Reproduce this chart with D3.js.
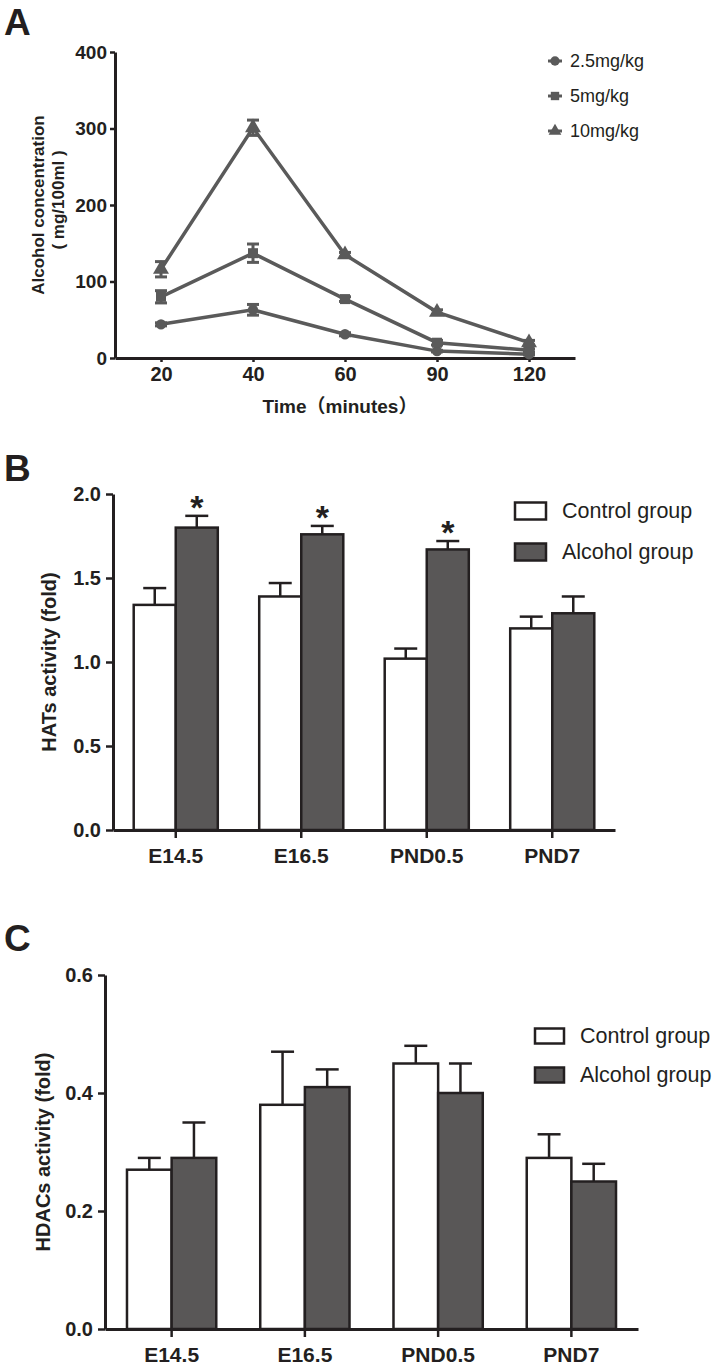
<!DOCTYPE html>
<html><head><meta charset="utf-8">
<script src="https://cdn.jsdelivr.net/npm/d3@7"></script>
<style>
body{margin:0;background:#fff}
svg{display:block}
text{font-family:"Liberation Sans",Arial,"Noto Sans CJK SC",sans-serif;fill:#231f20}
</style>
</head><body>
<svg id="c" width="721" height="1371"></svg>
<script>
// ---------- Panel A data ----------
const times = ["20","40","60","90","120"];
const doses = ["2.5mg/kg","5mg/kg","10mg/kg"];
const conc25 = [44,63,31,9,5];
const err25  = [2,7,2,1,1];
const conc5  = [80,137,77,20,10];
const err5   = [8,12,3,3,2];
const conc10 = [116,301,135,60,20];
const err10  = [10,10,3,3,3];
const concTicks = [0,100,200,300,400];

// ---------- Panels B / C data ----------
const stages = ["E14.5","E16.5","PND0.5","PND7"];
const groups = ["Control group","Alcohol group"];
const hatControl    = [1.34,1.39,1.02,1.20];
const hatControlErr = [0.10,0.08,0.06,0.07];
const hatAlcohol    = [1.80,1.76,1.67,1.29];
const hatAlcoholErr = [0.07,0.05,0.05,0.10];
const hatSignif     = [true,true,true,false];
const hatTicks = [0,0.5,1.0,1.5,2.0];

const hdacControl    = [0.27,0.38,0.45,0.29];
const hdacControlErr = [0.02,0.09,0.03,0.04];
const hdacAlcohol    = [0.29,0.41,0.40,0.25];
const hdacAlcoholErr = [0.06,0.03,0.05,0.03];
const hdacTicks = [0,0.2,0.4,0.6];

const INK = "#231f20", LINE = "#5a5a5a", DARK = "#595757";
const svg = d3.select("#c");

function styleAxis(g, fs){
  g.select(".domain").attr("stroke", INK).attr("stroke-width", 3);
  g.selectAll(".tick line").attr("stroke", INK).attr("stroke-width", 2.5);
  g.selectAll(".tick text").attr("fill", INK).style("font-size", fs+"px").style("font-weight","bold");
}

function panelLabel(t, x, y){
  svg.append("text").attr("x", x).attr("y", y).text(t)
    .style("font-size","37px").style("font-weight","bold");
}

// ================= Panel A =================
panelLabel("A", 4, 35);
{
  const x = d3.scalePoint().domain(times).range([115,575]).padding(0.5);
  const y = d3.scaleLinear().domain([0,400]).range([358,52]);
  const gy = svg.append("g").attr("transform","translate(115,0)")
    .call(d3.axisLeft(y).tickValues(concTicks).tickSize(5).tickSizeOuter(0).tickPadding(3).tickFormat(d3.format("d")));
  styleAxis(gy, 19);
  const gx = svg.append("g").attr("transform","translate(0,358)")
    .call(d3.axisBottom(x).tickSize(4).tickSizeOuter(0).tickPadding(5));
  styleAxis(gx, 20);

  const series = [
    {vals: conc25, errs: err25, sym: d3.symbolCircle, size: 85},
    {vals: conc5,  errs: err5,  sym: d3.symbolSquare, size: 100},
    {vals: conc10, errs: err10, sym: d3.symbolTriangle, size: 110}
  ];
  const line = d3.line().x((d,i)=>x(times[i])).y(d=>y(d));
  series.forEach(s=>{
    const g = svg.append("g");
    s.vals.forEach((v,i)=>{
      const cx = x(times[i]);
      g.append("line").attr("x1",cx).attr("x2",cx).attr("y1",y(v-s.errs[i])).attr("y2",y(v+s.errs[i]))
        .attr("stroke",LINE).attr("stroke-width",3);
      [v-s.errs[i], v+s.errs[i]].forEach(e=>{
        g.append("line").attr("x1",cx-6).attr("x2",cx+6).attr("y1",y(e)).attr("y2",y(e))
          .attr("stroke",LINE).attr("stroke-width",3);
      });
    });
    g.append("path").datum(s.vals).attr("d",line).attr("fill","none")
      .attr("stroke",LINE).attr("stroke-width",3.5);
    g.selectAll("path.m").data(s.vals).enter().append("path").attr("class","m")
      .attr("d", d3.symbol().type(s.sym).size(s.size))
      .attr("transform",(d,i)=>`translate(${x(times[i])},${y(d)})`)
      .attr("fill",LINE);
  });

  // legend
  const ly = d3.scalePoint().domain(doses).range([61,131]);
  doses.forEach((d,i)=>{
    const yy = ly(d);
    svg.append("line").attr("x1",548).attr("x2",562).attr("y1",yy).attr("y2",yy)
      .attr("stroke",LINE).attr("stroke-width",3);
    svg.append("path").attr("d", d3.symbol().type(series[i].sym).size(70))
      .attr("transform",`translate(555,${yy})`).attr("fill",LINE);
    svg.append("text").attr("x",570).attr("y",yy).attr("dominant-baseline","central")
      .text(d).style("font-size","18px");
  });

  // axis titles
  svg.append("text").attr("transform","translate(38,205) rotate(-90)")
    .attr("text-anchor","middle").attr("dominant-baseline","central")
    .style("font-size","17px").style("font-weight","bold").text("Alcohol concentration");
  svg.append("text").attr("transform","translate(58,200) rotate(-90)")
    .attr("text-anchor","middle").attr("dominant-baseline","central")
    .style("font-size","17px").style("font-weight","bold").text("( mg/100ml )");
  svg.append("text").attr("x",340).attr("y",406).attr("text-anchor","middle")
    .attr("dominant-baseline","central")
    .style("font-size","19px").style("font-weight","bold").text("Time（minutes）");
}

// ================= Bar panel helper =================
function barPanel(o){
  const x = d3.scaleBand().domain(stages).range([o.x0,o.x1]).paddingInner(0.33).paddingOuter(0.165);
  const y = d3.scaleLinear().domain(o.domain).range([o.yBottom,o.yTop]);
  const bw = x.bandwidth()/2;
  const gy = svg.append("g").attr("transform",`translate(${o.x0},0)`)
    .call(d3.axisLeft(y).tickValues(o.ticks).tickSize(7).tickSizeOuter(0).tickPadding(5).tickFormat(d3.format(".1f")));
  styleAxis(gy, 20);

  const vals = [o.ctrl, o.alc], errs = [o.ctrlErr, o.alcErr];
  stages.forEach((s,i)=>{
    [0,1].forEach(k=>{
      const bx = x(s) + k*bw;
      const top = y(vals[k][i]);
      const cx = bx + bw/2;
      const ey = y(vals[k][i]+errs[k][i]);
      svg.append("line").attr("x1",cx).attr("x2",cx).attr("y1",top).attr("y2",ey)
        .attr("stroke",INK).attr("stroke-width",2.5);
      svg.append("line").attr("x1",cx-11.5).attr("x2",cx+11.5).attr("y1",ey).attr("y2",ey)
        .attr("stroke",INK).attr("stroke-width",2.5);
      svg.append("rect").attr("x",bx).attr("y",top).attr("width",bw).attr("height",y(0)-top)
        .attr("fill", k===0 ? "#fff" : DARK).attr("stroke",INK).attr("stroke-width",2.5);
      if(k===1 && o.signif && o.signif[i]){
        svg.append("text").attr("x",cx).attr("y",ey+3).attr("text-anchor","middle")
          .style("font-size","34px").style("font-weight","bold").text("*");
      }
    });
  });

  const gx = svg.append("g").attr("transform",`translate(0,${o.yBottom})`)
    .call(d3.axisBottom(x).tickSize(8).tickSizeOuter(0).tickPadding(10));
  styleAxis(gx, 21);

  svg.append("text").attr("transform",`translate(${o.labelX},${(o.yBottom+o.yTop)/2}) rotate(-90)`)
    .attr("text-anchor","middle").attr("dominant-baseline","central")
    .style("font-size","20px").style("font-weight","bold").text(o.ylabel);

  groups.forEach((g,k)=>{
    const ly = o.legY[k];
    svg.append("rect").attr("x",o.legX).attr("y",ly-o.legH/2).attr("width",o.legW).attr("height",o.legH)
      .attr("fill", k===0 ? "#fff" : DARK).attr("stroke",INK).attr("stroke-width",2.5);
    svg.append("text").attr("x",o.legX+o.legW+16).attr("y",ly).attr("dominant-baseline","central")
      .style("font-size","21.5px").text(g);
  });
}

// ================= Panel B =================
panelLabel("B", 4, 481);
barPanel({x0:113, x1:615, yBottom:830, yTop:494, domain:[0,2], ticks:hatTicks,
  ctrl:hatControl, ctrlErr:hatControlErr, alc:hatAlcohol, alcErr:hatAlcoholErr, signif:hatSignif,
  ylabel:"HATs activity (fold)", labelX:49,
  legX:515, legW:31, legH:17, legY:[511,552]});

// ================= Panel C =================
panelLabel("C", 4, 951);
barPanel({x0:105, x1:638, yBottom:1329, yTop:975, domain:[0,0.6], ticks:hdacTicks,
  ctrl:hdacControl, ctrlErr:hdacControlErr, alc:hdacAlcohol, alcErr:hdacAlcoholErr, signif:null,
  ylabel:"HDACs activity (fold)", labelX:43,
  legX:535, legW:29, legH:15, legY:[1036,1075]});
</script>
</body></html>
